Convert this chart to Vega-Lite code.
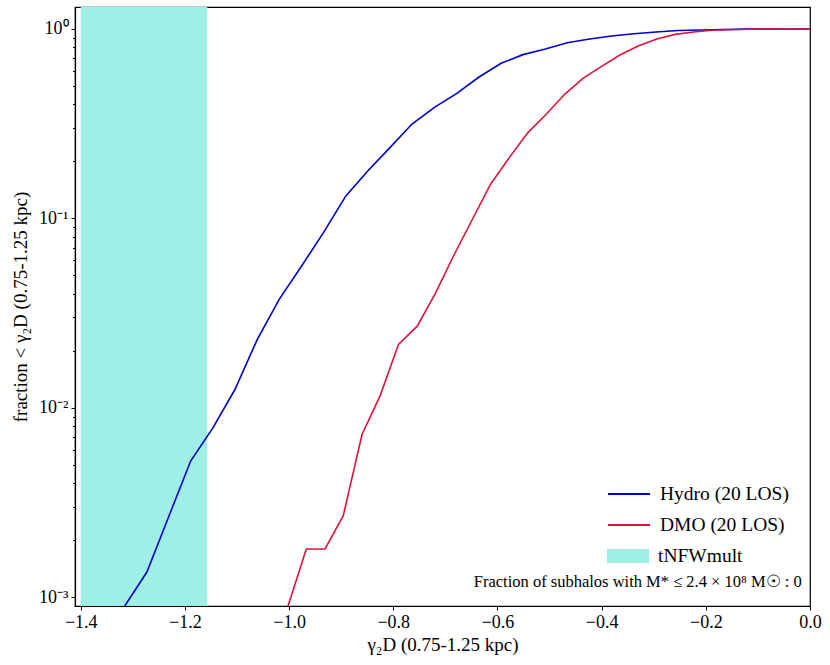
{
  "$schema": "https://vega.github.io/schema/vega-lite/v6.json",
  "width": 735,
  "height": 599,
  "autosize": {"type": "none"},
  "padding": {"left": 75, "top": 7, "right": 20, "bottom": 59},
  "background": "white",
  "config": {
    "view": {"stroke": "black", "strokeWidth": 1.2},
    "font": "Liberation Serif",
    "axis": {
      "domainColor": "black", "domainWidth": 1.2, "tickColor": "black", "tickWidth": 1,
      "labelColor": "black", "titleColor": "black", "grid": false,
      "labelFont": "Liberation Serif", "titleFont": "Liberation Serif",
      "labelFontSize": 18, "titleFontSize": 19, "titleFontWeight": "normal"
    }
  },
  "datasets": {
    "curves": [
      {"series": "Hydro (20 LOS)", "gamma": -1.3155, "frac": 0.0009},
      {"series": "Hydro (20 LOS)", "gamma": -1.273, "frac": 0.00136},
      {"series": "Hydro (20 LOS)", "gamma": -1.231, "frac": 0.00267},
      {"series": "Hydro (20 LOS)", "gamma": -1.189, "frac": 0.00524},
      {"series": "Hydro (20 LOS)", "gamma": -1.146, "frac": 0.00786},
      {"series": "Hydro (20 LOS)", "gamma": -1.104, "frac": 0.0125},
      {"series": "Hydro (20 LOS)", "gamma": -1.061, "frac": 0.023},
      {"series": "Hydro (20 LOS)", "gamma": -1.019, "frac": 0.0374},
      {"series": "Hydro (20 LOS)", "gamma": -0.976, "frac": 0.0561},
      {"series": "Hydro (20 LOS)", "gamma": -0.934, "frac": 0.0842},
      {"series": "Hydro (20 LOS)", "gamma": -0.891, "frac": 0.1315},
      {"series": "Hydro (20 LOS)", "gamma": -0.849, "frac": 0.178},
      {"series": "Hydro (20 LOS)", "gamma": -0.806, "frac": 0.237},
      {"series": "Hydro (20 LOS)", "gamma": -0.764, "frac": 0.315},
      {"series": "Hydro (20 LOS)", "gamma": -0.721, "frac": 0.386},
      {"series": "Hydro (20 LOS)", "gamma": -0.678, "frac": 0.457},
      {"series": "Hydro (20 LOS)", "gamma": -0.636, "frac": 0.556},
      {"series": "Hydro (20 LOS)", "gamma": -0.593, "frac": 0.659},
      {"series": "Hydro (20 LOS)", "gamma": -0.551, "frac": 0.732},
      {"series": "Hydro (20 LOS)", "gamma": -0.508, "frac": 0.784},
      {"series": "Hydro (20 LOS)", "gamma": -0.466, "frac": 0.846},
      {"series": "Hydro (20 LOS)", "gamma": -0.423, "frac": 0.885},
      {"series": "Hydro (20 LOS)", "gamma": -0.381, "frac": 0.918},
      {"series": "Hydro (20 LOS)", "gamma": -0.338, "frac": 0.944},
      {"series": "Hydro (20 LOS)", "gamma": -0.296, "frac": 0.964},
      {"series": "Hydro (20 LOS)", "gamma": -0.253, "frac": 0.981},
      {"series": "Hydro (20 LOS)", "gamma": -0.21, "frac": 0.988},
      {"series": "Hydro (20 LOS)", "gamma": -0.168, "frac": 0.994},
      {"series": "Hydro (20 LOS)", "gamma": -0.125, "frac": 0.998},
      {"series": "Hydro (20 LOS)", "gamma": -0.083, "frac": 1.0},
      {"series": "Hydro (20 LOS)", "gamma": -0.04, "frac": 1.0},
      {"series": "Hydro (20 LOS)", "gamma": 0.0, "frac": 1.0},
      {"series": "DMO (20 LOS)", "gamma": -1.002, "frac": 0.0009},
      {"series": "DMO (20 LOS)", "gamma": -0.967, "frac": 0.0018},
      {"series": "DMO (20 LOS)", "gamma": -0.931, "frac": 0.0018},
      {"series": "DMO (20 LOS)", "gamma": -0.896, "frac": 0.0027},
      {"series": "DMO (20 LOS)", "gamma": -0.86, "frac": 0.00724},
      {"series": "DMO (20 LOS)", "gamma": -0.825, "frac": 0.01164},
      {"series": "DMO (20 LOS)", "gamma": -0.79, "frac": 0.0216},
      {"series": "DMO (20 LOS)", "gamma": -0.754, "frac": 0.027},
      {"series": "DMO (20 LOS)", "gamma": -0.719, "frac": 0.0403},
      {"series": "DMO (20 LOS)", "gamma": -0.683, "frac": 0.0645},
      {"series": "DMO (20 LOS)", "gamma": -0.648, "frac": 0.099},
      {"series": "DMO (20 LOS)", "gamma": -0.613, "frac": 0.152},
      {"series": "DMO (20 LOS)", "gamma": -0.577, "frac": 0.21},
      {"series": "DMO (20 LOS)", "gamma": -0.542, "frac": 0.283},
      {"series": "DMO (20 LOS)", "gamma": -0.506, "frac": 0.356},
      {"series": "DMO (20 LOS)", "gamma": -0.471, "frac": 0.452},
      {"series": "DMO (20 LOS)", "gamma": -0.436, "frac": 0.549},
      {"series": "DMO (20 LOS)", "gamma": -0.4, "frac": 0.635},
      {"series": "DMO (20 LOS)", "gamma": -0.365, "frac": 0.729},
      {"series": "DMO (20 LOS)", "gamma": -0.329, "frac": 0.816},
      {"series": "DMO (20 LOS)", "gamma": -0.294, "frac": 0.886},
      {"series": "DMO (20 LOS)", "gamma": -0.259, "frac": 0.936},
      {"series": "DMO (20 LOS)", "gamma": -0.223, "frac": 0.964},
      {"series": "DMO (20 LOS)", "gamma": -0.188, "frac": 0.984},
      {"series": "DMO (20 LOS)", "gamma": -0.152, "frac": 0.991},
      {"series": "DMO (20 LOS)", "gamma": -0.117, "frac": 0.996},
      {"series": "DMO (20 LOS)", "gamma": -0.082, "frac": 0.998},
      {"series": "DMO (20 LOS)", "gamma": -0.046, "frac": 1.0},
      {"series": "DMO (20 LOS)", "gamma": -0.011, "frac": 1.0},
      {"series": "DMO (20 LOS)", "gamma": 0.0, "frac": 1.0}
    ],
    "band": [{"label": "tNFWmult", "x0": -1.4, "x1": -1.157}],
    "note": [{"text": "Fraction of subhalos with M* ≤ 2.4 × 10⁸ M☉ : 0"}]
  },
  "layer": [
    {
      "data": {"name": "band"},
      "mark": {"type": "rect", "clip": true},
      "encoding": {
        "x": {
          "field": "x0", "type": "quantitative",
          "scale": {"domain": [-1.411, 0], "nice": false, "zero": false},
          "axis": {
            "values": [-1.4, -1.2, -1.0, -0.8, -0.6, -0.4, -0.2, 0.0],
            "format": ".1f", "tickSize": 4, "labelPadding": 3, "labelFlush": false,
            "labelOverlap": false, "title": "γ₂D (0.75-1.25 kpc)", "titlePadding": 4
          }
        },
        "x2": {"field": "x1"},
        "fill": {
          "field": "label", "type": "nominal",
          "scale": {"domain": ["tNFWmult"], "range": ["#a0efe7"]},
          "legend": {
            "orient": "none", "legendX": 532, "legendY": 533.5, "title": null,
            "symbolType": "M-1,-0.33H1V0.33H-1Z", "symbolSize": 1764, "symbolStrokeWidth": 0,
            "symbolOpacity": 1, "labelFontSize": 19.5, "labelFont": "Liberation Serif",
            "labelColor": "black", "labelOffset": 9, "clipHeight": 31, "rowPadding": 0, "padding": 0
          }
        }
      }
    },
    {
      "data": {"name": "curves"},
      "mark": {"type": "line", "clip": true, "strokeWidth": 1.6},
      "encoding": {
        "x": {"field": "gamma", "type": "quantitative"},
        "y": {
          "field": "frac", "type": "quantitative",
          "scale": {"type": "log", "domain": [0.0009, 1.306], "nice": false},
          "axis": {
            "values": [0.001, 0.002, 0.003, 0.004, 0.005, 0.006, 0.007, 0.008, 0.009,
                       0.01, 0.02, 0.03, 0.04, 0.05, 0.06, 0.07, 0.08, 0.09,
                       0.1, 0.2, 0.3, 0.4, 0.5, 0.6, 0.7, 0.8, 0.9, 1],
            "labelExpr": "datum.value == 1 ? '10⁰' : datum.value == 0.1 ? '10⁻¹' : datum.value == 0.01 ? '10⁻²' : datum.value == 0.001 ? '10⁻³' : ''",
            "tickSize": {"condition": {"test": "datum.value == 1 || datum.value == 0.1 || datum.value == 0.01 || datum.value == 0.001", "value": 4}, "value": 2.5},
            "labelOverlap": false, "labelFlush": false, "labelPadding": 3,
            "title": "fraction < γ₂D (0.75-1.25 kpc)", "titlePadding": 8
          }
        },
        "stroke": {
          "field": "series", "type": "nominal",
          "scale": {"domain": ["Hydro (20 LOS)", "DMO (20 LOS)"], "range": ["#0000cd", "#dc143c"]},
          "legend": {
            "orient": "none", "legendX": 532, "legendY": 471.5, "title": null,
            "symbolType": "stroke", "symbolSize": 1764, "symbolStrokeWidth": 2,
            "labelFontSize": 19.5, "labelFont": "Liberation Serif", "labelColor": "black",
            "labelOffset": 9, "clipHeight": 31, "rowPadding": 0, "padding": 0
          }
        }
      }
    },
    {
      "data": {"name": "note"},
      "mark": {"type": "text", "align": "right", "baseline": "middle", "fontSize": 16.5, "font": "Liberation Serif", "color": "black"},
      "encoding": {
        "x": {"datum": -0.016},
        "y": {"datum": 0.00121},
        "text": {"field": "text"}
      }
    }
  ]
}
